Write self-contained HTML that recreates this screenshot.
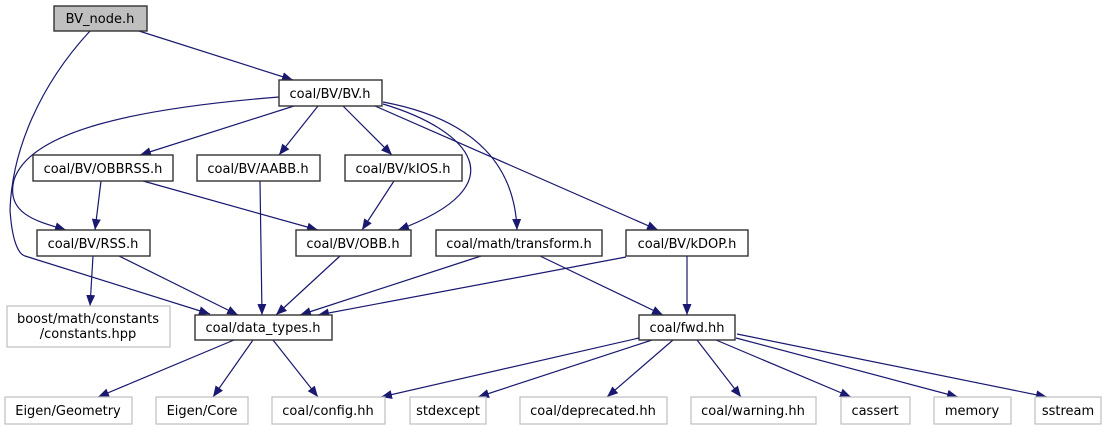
<!DOCTYPE html>
<html><head><meta charset="utf-8"><style>
html,body{margin:0;padding:0;background:#fff;width:1115px;height:425px;overflow:hidden}
svg text{font-family:"DejaVu Sans","Liberation Sans",sans-serif;font-size:13px;fill:#000}
</style></head><body>
<svg width="1115" height="425" xmlns="http://www.w3.org/2000/svg">
<defs><marker id="a" markerWidth="11" markerHeight="9" refX="11" refY="4.5" orient="auto" markerUnits="userSpaceOnUse"><path d="M0,0 L11,4.5 L0,9 z" fill="#191970"/></marker></defs>
<g fill="none" stroke="#191970" stroke-width="1.2" marker-end="url(#a)">
<path d="M139,31 L293,80"/>
<path d="M90,31 C40,85 12,150 10,210 C12,240 18,254 25,256 L210,314"/>
<path d="M279,97 C140,108 30,130 14,180 C5,215 40,222 66,230"/>
<path d="M294,106 L140,155"/>
<path d="M318,106 L279,155"/>
<path d="M343,106 L392,155"/>
<path d="M383,104 C470,130 520,185 398,230"/>
<path d="M383,102 C480,120 515,170 517,230"/>
<path d="M375,106 L658,230"/>
<path d="M101,181 L95,230"/>
<path d="M143,181 L318,230"/>
<path d="M394,181 L362,230"/>
<path d="M260,181 L262,315"/>
<path d="M119,256 L238,315"/>
<path d="M93,256 L90,306"/>
<path d="M340,256 L276,315"/>
<path d="M481,256 L300,315"/>
<path d="M540,256 L663,315"/>
<path d="M626,257 L318,315"/>
<path d="M687,256 L687,315"/>
<path d="M234,340 L98,397"/>
<path d="M253,340 L213,397"/>
<path d="M273,340 L318,397"/>
<path d="M639,338 L381,397"/>
<path d="M652,340 L478,397"/>
<path d="M673,340 L607,397"/>
<path d="M697,340 L741,397"/>
<path d="M716,340 L851,397"/>
<path d="M736,338 L958,397"/>
<path d="M737,334 L1047,397"/>
</g>
<g stroke="#333" stroke-width="1.4" fill="#fff">
<rect x="54" y="6" width="93" height="25" fill="#bfbfbf"/>
<rect x="279" y="80" width="103" height="26"/>
<rect x="33" y="155" width="140" height="26"/>
<rect x="197" y="155" width="123" height="26"/>
<rect x="345" y="155" width="117" height="26"/>
<rect x="37" y="230" width="113" height="26"/>
<rect x="296" y="230" width="115" height="26"/>
<rect x="436" y="230" width="166" height="26"/>
<rect x="626" y="230" width="122" height="26"/>
<rect x="195" y="315" width="137" height="25"/>
<rect x="639" y="315" width="96" height="25"/>
</g>
<g stroke="#bfbfbf" stroke-width="1.2" fill="#fff">
<rect x="7" y="306" width="163" height="41"/>
<rect x="5" y="397" width="127" height="27"/>
<rect x="156" y="397" width="92" height="27"/>
<rect x="272" y="397" width="113" height="27"/>
<rect x="410" y="397" width="76" height="27"/>
<rect x="520" y="397" width="147" height="27"/>
<rect x="691" y="397" width="125" height="27"/>
<rect x="841" y="397" width="69" height="27"/>
<rect x="934" y="397" width="77" height="27"/>
<rect x="1035" y="397" width="66" height="27"/>
</g>
<g text-anchor="middle">
<text x="100" y="23">BV_node.h</text>
<text x="330" y="98">coal/BV/BV.h</text>
<text x="103" y="173">coal/BV/OBBRSS.h</text>
<text x="258" y="173">coal/BV/AABB.h</text>
<text x="403" y="173">coal/BV/kIOS.h</text>
<text x="93" y="248">coal/BV/RSS.h</text>
<text x="353" y="248">coal/BV/OBB.h</text>
<text x="519" y="248">coal/math/transform.h</text>
<text x="687" y="248">coal/BV/kDOP.h</text>
<text x="88" y="323">boost/math/constants</text>
<text x="88" y="338">/constants.hpp</text>
<text x="263" y="332">coal/data_types.h</text>
<text x="687" y="332">coal/fwd.hh</text>
<text x="68" y="415">Eigen/Geometry</text>
<text x="202" y="415">Eigen/Core</text>
<text x="328" y="415">coal/config.hh</text>
<text x="448" y="415">stdexcept</text>
<text x="593" y="415">coal/deprecated.hh</text>
<text x="753" y="415">coal/warning.hh</text>
<text x="875" y="415">cassert</text>
<text x="972" y="415">memory</text>
<text x="1068" y="415">sstream</text>
</g>
</svg>
</body></html>
